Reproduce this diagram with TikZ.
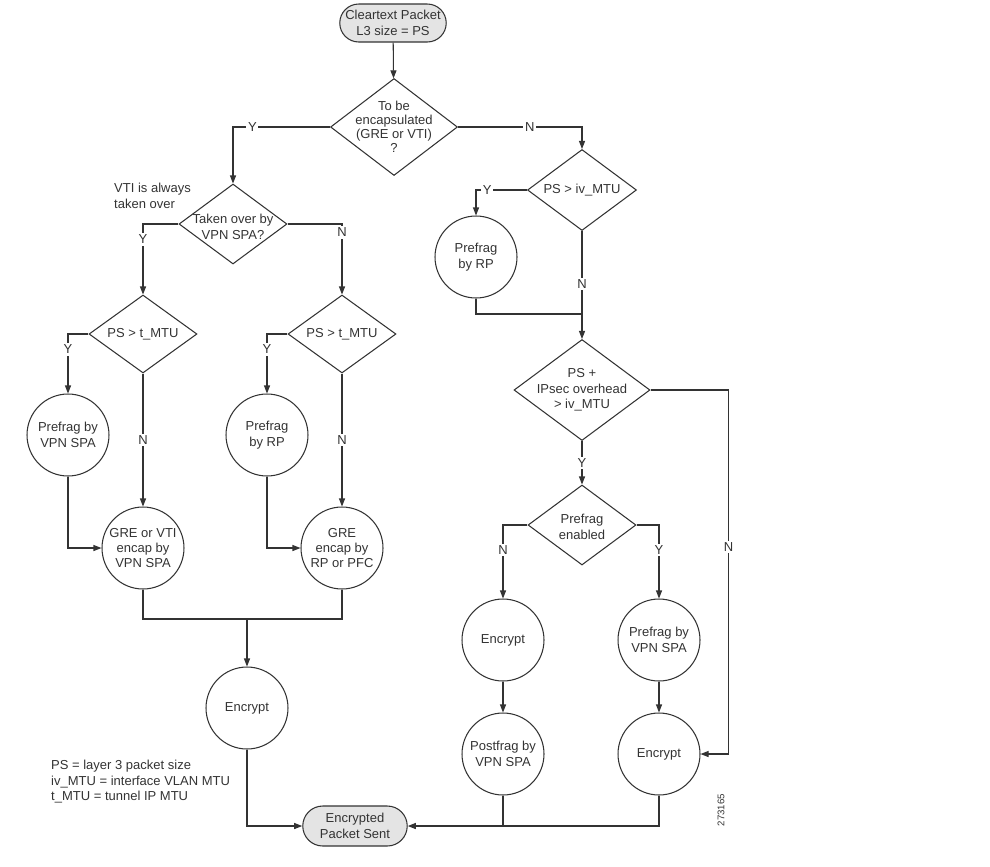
\documentclass[tikz,border=0pt]{standalone}
\usepackage{fontspec}
\setmainfont{Liberation Sans}
\usetikzlibrary{arrows.meta,positioning,shapes.geometric,shapes.misc}
\definecolor{ink}{HTML}{333333}
\definecolor{term}{HTML}{E4E4E4}

\begin{document}
\begin{tikzpicture}[
    x=0.02cm,y=-0.02cm,
    font=\fontsize{7.4}{8.8}\selectfont,
    every node/.style={text=ink},
    terminal/.style={rounded rectangle,draw=ink,fill=term,line width=0.6pt,
      minimum width=2.2cm,minimum height=0.76cm,inner sep=1pt,align=center},
    decision/.style={diamond,draw=ink,line width=0.6pt,
      minimum width=2.16cm,minimum height=1.6cm,inner sep=0pt},
    dtext/.style={align=center,inner sep=0pt},
    task/.style={circle,draw=ink,line width=0.6pt,minimum size=1.64cm,
      inner sep=0pt,align=center},
    link/.style={draw=ink,line width=0.6pt},
    arr/.style={link,-{Triangle[length=1.6mm,width=1.2mm]}},
    yn/.style={fill=white,inner sep=1pt}
  ]
  \useasboundingbox (0,0) rectangle (990,866);

  \node[terminal] (start) at (393,23) {Cleartext Packet\\L3 size = PS};
  \node[decision,minimum width=2.54cm,minimum height=1.94cm] (encq) at (394,127) {};
  \node[dtext,font=\fontsize{7.4}{8}\selectfont] (encq-t) at (encq) {To be\\encapsulated\\(GRE or VTI)\\?};

  \node[decision] (tovpn) at (233,224) {};
  \node[dtext] (tovpn-t) at (233,227) {Taken over by\\VPN SPA?};
  \node[align=left,anchor=west] (vtinote) at (108,196) {VTI is always\\taken over};

  \node[decision,minimum height=1.56cm] (ptl) at (143,334) {};
  \node[dtext] (ptl-t) at (ptl) {PS > t\_MTU};
  \node[decision,minimum height=1.56cm] (ptr) at (342,334) {};
  \node[dtext] (ptr-t) at (ptr) {PS > t\_MTU};

  \node[task] (fragspa) at (68,435) {Prefrag by\\VPN SPA};
  \node[task] (encapspa) at (143,548) {GRE or VTI\\encap by\\VPN SPA};
  \node[task] (fragrp) at (267,435) {Prefrag\\by RP};
  \node[task] (encaprp) at (342,548) {GRE\\encap by\\RP or PFC};
  \coordinate (merge) at (247,619);
  \node[task] (encl) at (247,708) {Encrypt};
  \node[terminal,minimum width=2.16cm,minimum height=0.8cm] (sent) at (355,826) {Encrypted\\Packet Sent};
  \node[align=left,anchor=west] (legend) at (45,782) {PS = layer 3 packet size\\iv\_MTU = interface VLAN MTU\\t\_MTU = tunnel IP MTU};

  \node[decision,minimum width=2.18cm,minimum height=1.62cm] (ivq) at (582,190) {};
  \node[dtext] (ivq-t) at (ivq) {PS > iv\_MTU};
  \node[task] (fragrp2) at (476,257) {Prefrag\\by RP};
  \coordinate (join) at (582,314);
  \node[decision,minimum width=2.72cm,minimum height=2.02cm] (ovhq) at (582,390) {};
  \node[dtext] (ovhq-t) at (ovhq) {PS +\\IPsec overhead\\> iv\_MTU};
  \node[decision] (prefq) at (582,525) {};
  \node[dtext] (prefq-t) at (582,527) {Prefrag\\enabled};
  \node[task] (encm) at (503,640) {Encrypt};
  \node[task] (postfrag) at (503,754) {Postfrag by\\VPN SPA};
  \node[task] (fragspa2) at (659,640) {Prefrag by\\VPN SPA};
  \node[task] (encr) at (659,754) {Encrypt};
  \node[rotate=90,font=\fontsize{5.5}{6}\selectfont] (figid) at (721,810) {273165};

  \draw[arr] (start) -- (encq);
  \draw[arr] (encq.west) -| node[yn,pos=0.4]{Y} (tovpn.north);
  \draw[arr] (encq.east) -| node[yn,pos=0.29]{N} (ivq.north);
  \draw[arr] (tovpn.west) -| node[yn,pos=0.61]{Y} (ptl.north);
  \draw[arr] (tovpn.east) -| node[yn,pos=0.56]{N} (ptr.north);
  \draw[arr] (ptl.west) -| node[yn,pos=0.63]{Y} (fragspa.north);
  \draw[arr] (ptl.south) -- node[yn]{N} (encapspa.north);
  \draw[arr] (fragspa.south) |- (encapspa.west);
  \draw[arr] (ptr.west) -| node[yn,pos=0.63]{Y} (fragrp.north);
  \draw[arr] (ptr.south) -- node[yn]{N} (encaprp.north);
  \draw[arr] (fragrp.south) |- (encaprp.west);
  \draw[link] (encapspa.south) |- (merge) -| (encaprp.south);
  \draw[arr] (merge) -- (encl.north);
  \draw[arr] (encl.south) |- (sent.west);

  \draw[arr] (ivq.west) -| node[yn,pos=0.39]{Y} (fragrp2.north);
  \draw[arr] (ivq.south) -- node[yn,pos=0.49]{N} (ovhq.north);
  \draw[link] (fragrp2.south) |- (join);
  \draw[arr] (ovhq.south) -- node[yn]{Y} (prefq.north);
  \draw[arr] (ovhq.east) -- ++(78,0) |- node[yn,pos=0.216]{N} (encr.east);
  \draw[arr] (prefq.west) -| node[yn,pos=0.67]{N} (encm.north);
  \draw[arr] (prefq.east) -| node[yn,pos=0.67]{Y} (fragspa2.north);
  \draw[arr] (encm) -- (postfrag);
  \draw[arr] (fragspa2) -- (encr);
  \draw[link] (postfrag.south) -- (postfrag.south |- sent.east);
  \draw[arr] (encr.south) |- (sent.east);
\end{tikzpicture}
\end{document}
